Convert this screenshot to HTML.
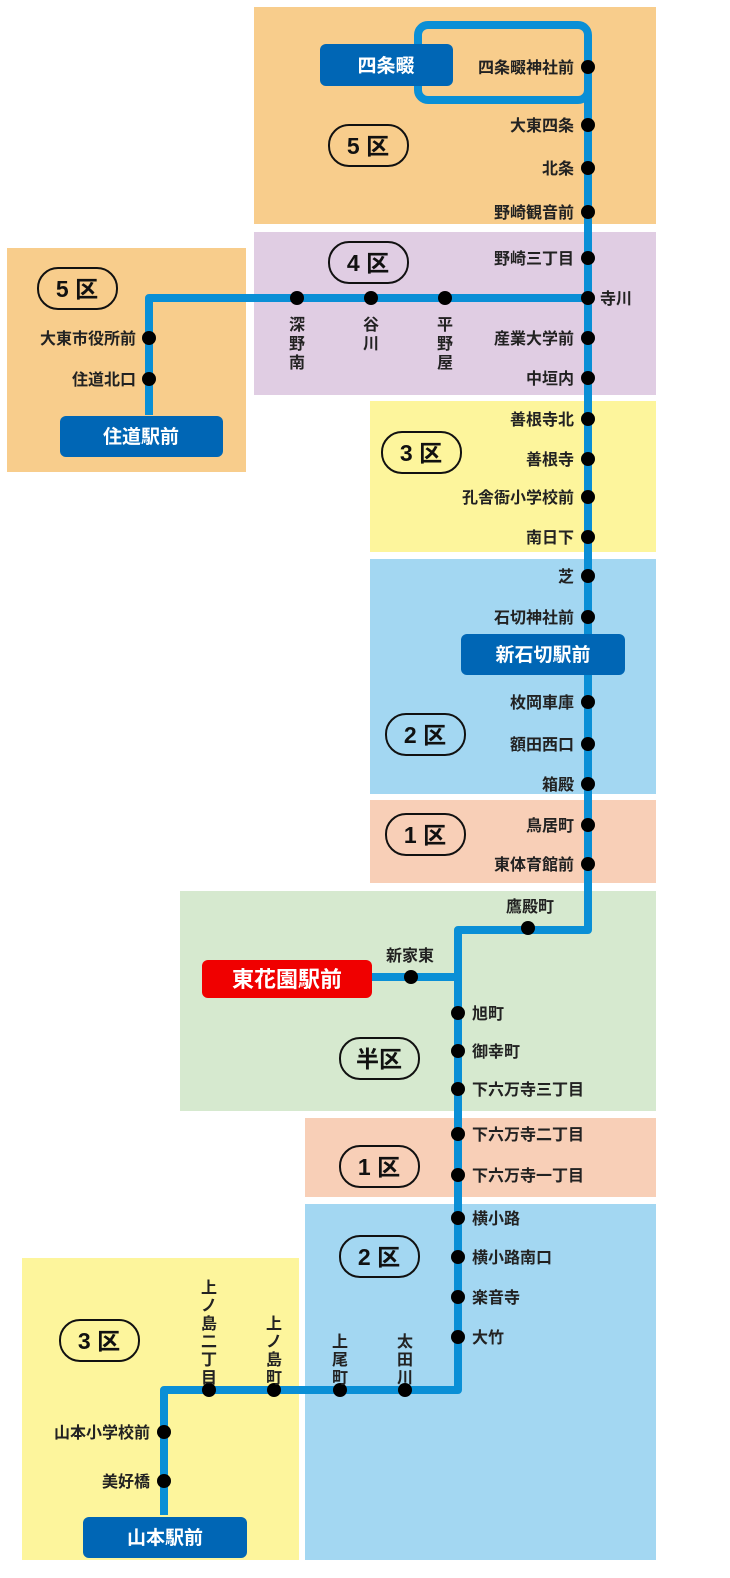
<!DOCTYPE html>
<html><head><meta charset="utf-8"><style>
html,body{margin:0;padding:0;background:#fff}
svg{display:block}
text{font-family:"Liberation Sans","Noto Sans CJK JP",sans-serif;font-weight:bold}
.l{font-size:16px;fill:#222}
.r{text-anchor:end}
.c{text-anchor:middle}
.b{font-size:19px;fill:#fff;text-anchor:middle}
.z{font-size:23px;fill:#111;text-anchor:middle}
.p{fill:none;stroke:#111;stroke-width:2}
</style></head><body>
<svg width="730" height="1578" viewBox="0 0 730 1578" xmlns="http://www.w3.org/2000/svg">
<rect x="254" y="7" width="402" height="217" fill="#f8cd8c"/>
<rect x="254" y="232" width="402" height="163" fill="#e0cde3"/>
<rect x="7" y="248" width="239" height="224" fill="#f8cd8c"/>
<rect x="370" y="401" width="286" height="151" fill="#fdf59c"/>
<rect x="370" y="559" width="286" height="235" fill="#a3d7f2"/>
<rect x="370" y="800" width="286" height="83" fill="#f8cfb7"/>
<rect x="180" y="891" width="476" height="220" fill="#d6e9cf"/>
<rect x="305" y="1118" width="351" height="79" fill="#f8cfb7"/>
<rect x="305" y="1204" width="351" height="356" fill="#a3d7f2"/>
<rect x="22" y="1258" width="277" height="302" fill="#fdf59c"/>

<g fill="none" stroke="#0a8fd6" stroke-width="8" stroke-linejoin="round">
<path d="M588 90 L588 930 L458 930 L458 1390 L164 1390 L164 1515"/>
<rect x="418" y="25" width="170" height="75" rx="10"/>
<path d="M149 415 L149 298 L588 298"/>
<path d="M370 977 L458 977"/>
</g>

<rect x="320" y="44" width="133" height="42" rx="6" fill="#0066b5"/>
<text class="b" x="386" y="72">四条畷</text>
<rect x="60" y="416" width="163" height="41" rx="6" fill="#0066b5"/>
<text class="b" x="141" y="443">住道駅前</text>
<rect x="461" y="634" width="164" height="41" rx="6" fill="#0066b5"/>
<text class="b" x="543" y="661">新石切駅前</text>
<rect x="202" y="960" width="170" height="38" rx="6" fill="#f00000"/>
<text class="b" x="287" y="987" style="font-size:22px">東花園駅前</text>
<rect x="83" y="1517" width="164" height="41" rx="6" fill="#0066b5"/>
<text class="b" x="165" y="1544">山本駅前</text>

<g fill="#000">
<circle cx="588" cy="67" r="7"/><circle cx="588" cy="125" r="7"/><circle cx="588" cy="168" r="7"/><circle cx="588" cy="212" r="7"/>
<circle cx="588" cy="258" r="7"/><circle cx="588" cy="298" r="7"/><circle cx="588" cy="338" r="7"/><circle cx="588" cy="378" r="7"/>
<circle cx="588" cy="419" r="7"/><circle cx="588" cy="459" r="7"/><circle cx="588" cy="497" r="7"/><circle cx="588" cy="537" r="7"/>
<circle cx="588" cy="576" r="7"/><circle cx="588" cy="617" r="7"/><circle cx="588" cy="702" r="7"/><circle cx="588" cy="744" r="7"/>
<circle cx="588" cy="784" r="7"/><circle cx="588" cy="825" r="7"/><circle cx="588" cy="864" r="7"/>
<circle cx="297" cy="298" r="7"/><circle cx="371" cy="298" r="7"/><circle cx="445" cy="298" r="7"/>
<circle cx="149" cy="338" r="7"/><circle cx="149" cy="379" r="7"/>
<circle cx="528" cy="928" r="7"/><circle cx="411" cy="977" r="7"/>
<circle cx="458" cy="1013" r="7"/><circle cx="458" cy="1051" r="7"/><circle cx="458" cy="1089" r="7"/><circle cx="458" cy="1134" r="7"/>
<circle cx="458" cy="1175" r="7"/><circle cx="458" cy="1218" r="7"/><circle cx="458" cy="1257" r="7"/><circle cx="458" cy="1297" r="7"/><circle cx="458" cy="1337" r="7"/>
<circle cx="405" cy="1390" r="7"/><circle cx="340" cy="1390" r="7"/><circle cx="274" cy="1390" r="7"/><circle cx="209" cy="1390" r="7"/>
<circle cx="164" cy="1432" r="7"/><circle cx="164" cy="1481" r="7"/>
</g>

<g class="l r">
<text x="574" y="73">四条畷神社前</text>
<text x="574" y="131">大東四条</text>
<text x="574" y="174">北条</text>
<text x="574" y="218">野崎観音前</text>
<text x="574" y="264">野崎三丁目</text>
<text x="574" y="344">産業大学前</text>
<text x="574" y="384">中垣内</text>
<text x="574" y="425">善根寺北</text>
<text x="574" y="465">善根寺</text>
<text x="574" y="503">孔舎衙小学校前</text>
<text x="574" y="543">南日下</text>
<text x="574" y="582">芝</text>
<text x="574" y="623">石切神社前</text>
<text x="574" y="708">枚岡車庫</text>
<text x="574" y="750">額田西口</text>
<text x="574" y="790">箱殿</text>
<text x="574" y="831">鳥居町</text>
<text x="574" y="870">東体育館前</text>
<text x="136" y="344">大東市役所前</text>
<text x="136" y="385">住道北口</text>
<text x="150" y="1438">山本小学校前</text>
<text x="150" y="1487">美好橋</text>
</g>
<g class="l">
<text x="600" y="304">寺川</text>
<text x="472" y="1019">旭町</text>
<text x="472" y="1057">御幸町</text>
<text x="472" y="1095">下六万寺三丁目</text>
<text x="472" y="1140">下六万寺二丁目</text>
<text x="472" y="1181">下六万寺一丁目</text>
<text x="472" y="1224">横小路</text>
<text x="472" y="1263">横小路南口</text>
<text x="472" y="1303">楽音寺</text>
<text x="472" y="1343">大竹</text>
</g>
<g class="l c">
<text x="530" y="912">鷹殿町</text>
<text x="410" y="961">新家東</text>
<text x="297" y="330">深</text><text x="297" y="349">野</text><text x="297" y="368">南</text>
<text x="371" y="330">谷</text><text x="371" y="349">川</text>
<text x="445" y="330">平</text><text x="445" y="349">野</text><text x="445" y="368">屋</text>
<text x="209" y="1293">上</text><text x="209" y="1311">ノ</text><text x="209" y="1329">島</text><text x="209" y="1347">二</text><text x="209" y="1365">丁</text><text x="209" y="1383">目</text>
<text x="274" y="1329">上</text><text x="274" y="1347">ノ</text><text x="274" y="1365">島</text><text x="274" y="1383">町</text>
<text x="340" y="1347">上</text><text x="340" y="1365">尾</text><text x="340" y="1383">町</text>
<text x="405" y="1347">太</text><text x="405" y="1365">田</text><text x="405" y="1383">川</text>
</g>

<g>
<rect class="p" x="329" y="125" width="79" height="41" rx="20"/><text class="z" x="368" y="154">5 区</text>
<rect class="p" x="329" y="242" width="79" height="41" rx="20"/><text class="z" x="368" y="271">4 区</text>
<rect class="p" x="38" y="268" width="79" height="41" rx="20"/><text class="z" x="77" y="297">5 区</text>
<rect class="p" x="382" y="432" width="79" height="41" rx="20"/><text class="z" x="421" y="461">3 区</text>
<rect class="p" x="386" y="714" width="79" height="41" rx="20"/><text class="z" x="425" y="743">2 区</text>
<rect class="p" x="386" y="814" width="79" height="41" rx="20"/><text class="z" x="425" y="843">1 区</text>
<rect class="p" x="340" y="1038" width="79" height="41" rx="20"/><text class="z" x="379" y="1067">半区</text>
<rect class="p" x="340" y="1146" width="79" height="41" rx="20"/><text class="z" x="379" y="1175">1 区</text>
<rect class="p" x="340" y="1236" width="79" height="41" rx="20"/><text class="z" x="379" y="1265">2 区</text>
<rect class="p" x="60" y="1320" width="79" height="41" rx="20"/><text class="z" x="99" y="1349">3 区</text>
</g>
</svg>
</body></html>
